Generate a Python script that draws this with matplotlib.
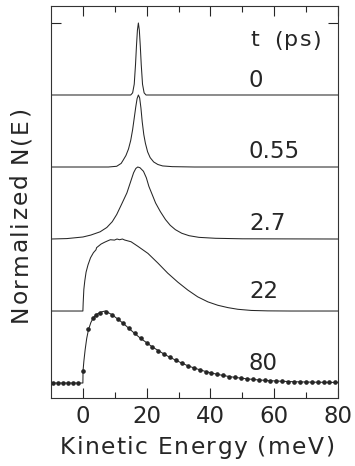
import matplotlib
matplotlib.use("Agg")
import matplotlib.pyplot as plt
from matplotlib.font_manager import FontProperties
from matplotlib.transforms import IdentityTransform

plt.rcParams['font.family'] = ['DejaVu Sans']

# ---- data (energy in meV, normalized N(E)) ----
t_labels = ["0", "0.55", "2.7", "22", "80"]
offsets = [4, 3, 2, 1, 0]

E_t0 = [-10, 15.0, 15.6, 16.1, 16.5, 16.8, 17.1, 17.4, 17.7, 18.0, 18.3, 18.7, 19.2, 19.8, 80]
N_t0 = [0, 0, 0.03, 0.15, 0.42, 0.68, 0.90, 1.0, 0.90, 0.68, 0.42, 0.15, 0.03, 0, 0]

E_t055 = [-10, 8, 10.6, 12.0, 12.7, 13.5, 14.3, 15.0, 15.6, 16.1, 16.6, 17.0, 17.4,
          17.8, 18.2, 18.6, 19.1, 19.6, 20.3, 21.1, 22.2, 23.5, 25, 28, 35, 80]
N_t055 = [0, 0, 0.01, 0.05, 0.10, 0.16, 0.25, 0.37, 0.52, 0.68, 0.84, 0.95, 1.0,
          0.96, 0.82, 0.63, 0.45, 0.33, 0.21, 0.13, 0.07, 0.035, 0.015, 0.005, 0, 0]

E_t27 = [-10, -5, 0, 2.5, 5.4, 7.5, 9.2, 10.6, 12.0, 13.8, 15.0, 15.9, 16.6, 17.2, 17.9,
         19.0, 19.9, 20.7, 21.8, 22.8, 24.3, 25.9, 27.4, 29.0, 31.0, 33.3, 36.4, 41.6, 50, 80]
N_t27 = [0, 0.006, 0.028, 0.055, 0.10, 0.16, 0.24, 0.34, 0.47, 0.64, 0.80, 0.92, 0.98, 1.0, 0.99,
         0.94, 0.85, 0.73, 0.61, 0.50, 0.38, 0.27, 0.19, 0.13, 0.08, 0.046, 0.023, 0.01, 0.003, 0]

E_t22 = [-10, 0.0, 0.1, 0.3, 0.6, 1.0, 1.6, 2.4, 3.3, 4.1, 4.3, 5.7, 6.8, 7.8, 8.6, 9.9, 10.7,
         11.5, 12.4, 13.1, 15.1, 17.2, 20.4, 23.5, 26.6, 29.8, 32.9, 36.0, 39.2, 42.3, 45.5,
         48.6, 52.8, 58.0, 65, 80]
N_t22 = [0, 0, 0.12, 0.30, 0.42, 0.54, 0.64, 0.74, 0.81, 0.85, 0.88, 0.93, 0.955, 0.975, 0.99, 0.985, 1.0,
         0.99, 1.0, 0.986, 0.962, 0.90, 0.80, 0.667, 0.526, 0.40, 0.291, 0.197, 0.127, 0.080, 0.047,
         0.024, 0.008, 0.002, 0, 0]

# t = 80 ps: measured points and fitted line
E_t80_pts = [-9.4, -7.8, -6.3, -4.7, -3.1, -1.6, 0.0, 1.6, 3.3, 4.2, 5.4, 7.3, 9.1, 10.9, 12.6,
             14.4, 16.2, 18.1, 20.0, 21.8, 23.7, 25.5, 27.4, 29.2, 31.1, 32.9, 34.8, 36.6, 38.5,
             40.3, 42.2, 44.0, 45.9, 47.7, 49.6, 51.4, 53.3, 55.1, 57.0, 58.8, 60.7, 62.5, 64.4,
             66.2, 68.1, 69.9, 71.8, 73.6, 75.5, 77.3, 79.2]
N_t80_pts = [0, 0, 0, 0, 0, 0, 0.17, 0.75, 0.90, 0.94, 0.97, 0.98, 0.95, 0.89, 0.83,
             0.76, 0.69, 0.62, 0.56, 0.50, 0.45, 0.40, 0.355, 0.315, 0.275, 0.24, 0.21, 0.185, 0.16,
             0.14, 0.12, 0.105, 0.09, 0.078, 0.068, 0.058, 0.05, 0.043, 0.037, 0.032, 0.028, 0.024, 0.021,
             0.018, 0.016, 0.014, 0.012, 0.011, 0.01, 0.009, 0.008]
E_t80_fit = [-10, 0.0, 0.05, 0.3, 0.7, 1.2, 1.75, 2.5, 3.3, 4.5, 6.0, 7.0, 9.1, 10.9, 12.6,
             14.4, 16.2, 18.1, 20.0, 21.8, 23.7, 25.5, 27.4, 29.2, 31.1, 32.9, 34.8, 36.6, 38.5,
             40.3, 42.2, 44.0, 45.9, 47.7, 49.6, 51.4, 53.3, 55.1, 57.0, 58.8, 60.7, 62.5, 64.4,
             66.2, 68.1, 69.9, 71.8, 73.6, 75.5, 77.3, 80]
N_t80_fit = [0, 0, 0.17, 0.30, 0.46, 0.62, 0.74, 0.84, 0.91, 0.96, 0.99, 1.0, 0.95, 0.89, 0.83,
             0.76, 0.69, 0.62, 0.56, 0.50, 0.45, 0.40, 0.355, 0.315, 0.275, 0.24, 0.21, 0.185, 0.16,
             0.14, 0.12, 0.105, 0.09, 0.078, 0.068, 0.058, 0.05, 0.043, 0.037, 0.032, 0.028, 0.024, 0.021,
             0.018, 0.016, 0.014, 0.012, 0.011, 0.01, 0.009, 0.008]

x_ticks = [0, 20, 40, 60, 80]
x_minor = [10, 30, 50, 70]

# ---- figure ----
W, H = 355, 466
fig = plt.figure(figsize=(W/100, H/100), dpi=100)
ax = fig.add_axes([51/W, 1-398/H, 287/W, 392/H])
col = '#262626'
lw = 0.75

curves = [(E_t0, N_t0), (E_t055, N_t055), (E_t27, N_t27), (E_t22, N_t22)]
for (E, N), off in zip(curves, offsets[:4]):
    ax.plot(E, [n + off for n in N], color=col, lw=lw)
ax.plot(E_t80_fit, N_t80_fit, color=col, lw=lw)
ax.plot(E_t80_pts, N_t80_pts, ls='none', marker='o', ms=2.3, color=col)

ax.set_xlim(-10, 80)
ax.set_ylim(-0.208, 5.236)
ax.set_xticks(x_ticks)
ax.set_xticks(x_minor, minor=True)
ax.set_yticks([5])
ax.set_yticklabels([])
ax.tick_params(which='major', direction='in', length=7, width=0.8, color=col,
               top=True, right=True, labelsize=16.5, pad=5, labelcolor=col)
ax.tick_params(which='minor', direction='in', length=4.5, width=0.8, color=col, top=True)
for s in ax.spines.values():
    s.set_linewidth(0.8)
    s.set_color('#333333')

renderer = fig.canvas.get_renderer()


def tracked_text(s, x0, y0, size, target_len, vertical=False):
    """Draw text char by char (pixel coords from top-left) with letter spacing."""
    prop = FontProperties(family='DejaVu Sans', size=size)

    def width(t):
        return renderer.get_text_width_height_descent(t, prop, ismath=False)[0]
    ref = width('I')
    adv = [width(s[:i] + 'I') - ref for i in range(len(s))]
    natural = width(s)
    track = (target_len - natural) / max(len(s) - 1, 1)
    for i, ch in enumerate(s):
        if ch == ' ':
            continue
        d = adv[i] + i * track
        if vertical:
            fig.text(x0, (H - y0) + d, ch, transform=IdentityTransform(), fontproperties=prop,
                     color=col, rotation=90, rotation_mode='anchor', ha='left', va='baseline')
        else:
            fig.text(x0 + d, H - y0, ch, transform=IdentityTransform(), fontproperties=prop,
                     color=col, ha='left', va='baseline')


fs = 16.5
# header "t (ps)": 't' and '(ps)' with the wide gap of the original
fig.text(250.5 / W, 1 - 46.5 / H, "t", fontsize=16, color=col, ha='left', va='baseline')
tracked_text("(ps)", 274, 46.5, 16, 47)

label_base = [87.3, 158, 230, 298, 370]
for lab, yb in zip(t_labels, label_base):
    fig.text(249 / W, 1 - yb / H, lab, fontsize=fs, color=col, ha='left', va='baseline')

tracked_text("Kinetic Energy (meV)", 60, 454, 16.8, 274)
tracked_text("Normalized N(E)", 27, 322, 16.8, 215, vertical=True)

fig.savefig("out.png", dpi=100)
